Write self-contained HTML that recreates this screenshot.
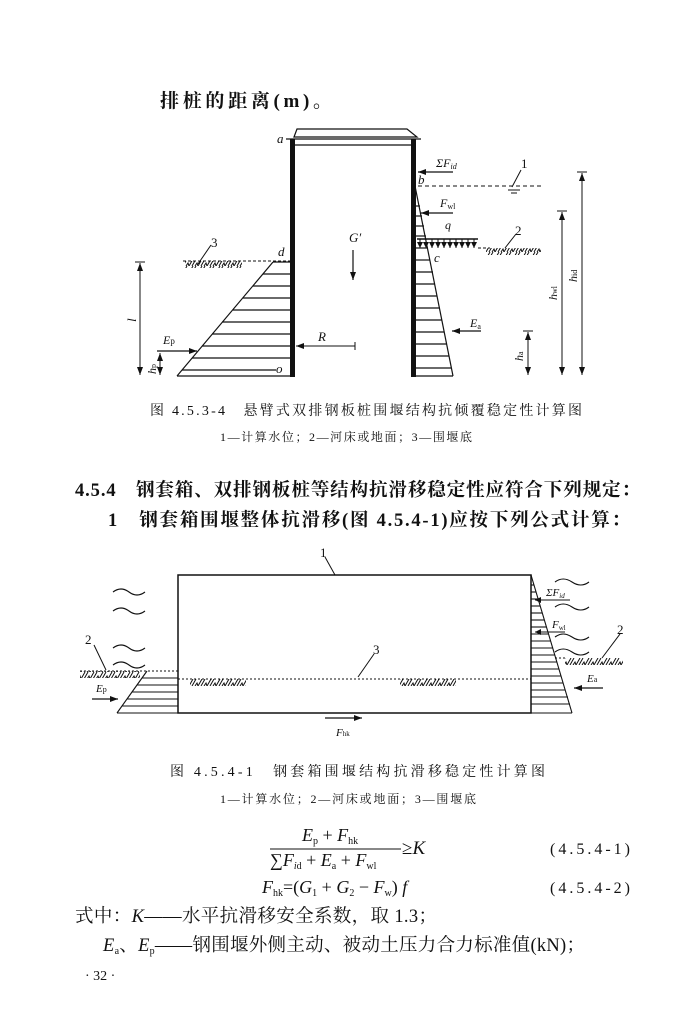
<!DOCTYPE html>
<html><head><meta charset="utf-8"><style>
html,body{margin:0;padding:0;background:#fff}
svg{display:block}
text{font-family:"Liberation Serif","Noto Serif CJK SC",serif;fill:#111}
.cn{font-family:"Liberation Serif","Noto Serif CJK SC",serif}
.it{font-style:italic}
</style></head><body>
<svg width="700" height="1023" viewBox="0 0 700 1023" xmlns="http://www.w3.org/2000/svg">
<defs>
<pattern id="h" width="9" height="7" patternUnits="userSpaceOnUse">
<path d="M0,7 L4,0 M3,7 L7,0 M6,7 L8,4 L9,7" stroke="#111" stroke-width="1" fill="none"/>
</pattern>
<marker id="ar" markerWidth="8" markerHeight="6" refX="8" refY="3" orient="auto" markerUnits="userSpaceOnUse"><path d="M0,0 L8,3 L0,6 z" fill="#111"/></marker>
<marker id="ar2" markerWidth="6" markerHeight="6" refX="6" refY="3" orient="auto" markerUnits="userSpaceOnUse"><path d="M0,0 L6,3 L0,6 z" fill="#111"/></marker>
<marker id="ab" markerWidth="8" markerHeight="6" refX="8" refY="3" orient="auto-start-reverse" markerUnits="userSpaceOnUse"><path d="M0,0 L8,3 L0,6 z" fill="#111"/></marker>
</defs>

<text x="160" y="107" font-size="19" font-weight="bold" class="cn" textLength="172" lengthAdjust="spacing">排桩的距离(m)。</text>

<!-- FIGURE 1 -->
<g stroke="#111" fill="none" stroke-width="1.2">
<polygon points="294,137 297,129 407,129 417,137"/>
<line x1="286" y1="139" x2="421" y2="139"/>
<line x1="294" y1="145" x2="416" y2="145"/>
</g>
<rect x="290" y="139" width="5" height="238" fill="#111"/>
<rect x="411" y="139" width="5" height="238" fill="#111"/>
<text x="277" y="143" font-size="13" class="it">a</text>
<line x1="453" y1="172" x2="418" y2="172" stroke="#111" stroke-width="1.2" marker-end="url(#ar)"/>
<text x="436" y="167" font-size="12" class="it">ΣF<tspan font-size="8" dy="2">id</tspan></text>
<text x="418" y="184" font-size="13" class="it">b</text>
<line x1="418" y1="186" x2="542" y2="186" stroke="#111" stroke-dasharray="4,3"/>
<line x1="512" y1="187" x2="521" y2="170" stroke="#111"/>
<text x="521" y="168" font-size="13">1</text>
<line x1="508" y1="190" x2="520" y2="190" stroke="#111"/>
<line x1="511" y1="193" x2="517" y2="193" stroke="#111"/>
<g stroke="#111" stroke-width="1.2">
<line x1="415" y1="186" x2="453" y2="376"/>
<line x1="416" y1="376" x2="453" y2="376"/>
<line x1="416" y1="206" x2="420" y2="206"/><line x1="416" y1="216" x2="422" y2="216"/><line x1="416" y1="226" x2="424" y2="226"/><line x1="416" y1="236" x2="426" y2="236"/><line x1="416" y1="248" x2="428" y2="248"/><line x1="416" y1="260" x2="430" y2="260"/><line x1="416" y1="272" x2="433" y2="272"/><line x1="416" y1="284" x2="435" y2="284"/><line x1="416" y1="296" x2="437" y2="296"/><line x1="416" y1="308" x2="440" y2="308"/><line x1="416" y1="320" x2="442" y2="320"/><line x1="416" y1="332" x2="444" y2="332"/><line x1="416" y1="344" x2="447" y2="344"/><line x1="416" y1="356" x2="449" y2="356"/><line x1="416" y1="368" x2="451" y2="368"/>
</g>
<line x1="453" y1="213" x2="421" y2="213" stroke="#111" stroke-width="1.2" marker-end="url(#ar)"/>
<text x="440" y="207" font-size="12" class="it">F<tspan font-size="8" dy="2" font-style="normal">wl</tspan></text>
<text x="445" y="229" font-size="12" class="it">q</text>
<line x1="417" y1="239" x2="478" y2="239" stroke="#111" stroke-width="1.5"/>
<g stroke="#111" stroke-width="1" marker-end="url(#ar2)">
<line x1="420" y1="239" x2="420" y2="248"/><line x1="426" y1="239" x2="426" y2="248"/><line x1="432" y1="239" x2="432" y2="248"/><line x1="438" y1="239" x2="438" y2="248"/><line x1="444" y1="239" x2="444" y2="248"/><line x1="450" y1="239" x2="450" y2="248"/><line x1="456" y1="239" x2="456" y2="248"/><line x1="462" y1="239" x2="462" y2="248"/><line x1="468" y1="239" x2="468" y2="248"/><line x1="474" y1="239" x2="474" y2="248"/>
</g>
<line x1="478" y1="248" x2="490" y2="248" stroke="#111" stroke-dasharray="3,2"/>
<rect x="486" y="248" width="55" height="7" fill="url(#h)"/>
<line x1="505" y1="248" x2="516" y2="234" stroke="#111"/>
<text x="515" y="235" font-size="13">2</text>
<text x="434" y="262" font-size="13" class="it">c</text>
<line x1="481" y1="331" x2="452" y2="331" stroke="#111" stroke-width="1.2" marker-end="url(#ar)"/>
<text x="470" y="327" font-size="12" class="it">E<tspan font-size="8" dy="2" font-style="normal">a</tspan></text>
<g stroke="#111" stroke-width="1" marker-start="url(#ab)" marker-end="url(#ab)">
<line x1="562" y1="212" x2="562" y2="375"/>
<line x1="582" y1="173" x2="582" y2="375"/>
<line x1="528" y1="332" x2="528" y2="375"/>
</g>
<g stroke="#111" stroke-width="1">
<line x1="557" y1="211" x2="567" y2="211"/><line x1="577" y1="172" x2="587" y2="172"/><line x1="523" y1="331" x2="533" y2="331"/>
</g>
<text transform="translate(557,300) rotate(-90)" font-size="12" class="it">h<tspan font-size="8" font-style="normal">wl</tspan></text>
<text transform="translate(577,282) rotate(-90)" font-size="12" class="it">h<tspan font-size="8" font-style="normal">id</tspan></text>
<text transform="translate(523,361) rotate(-90)" font-size="12" class="it">h<tspan font-size="8" font-style="normal">a</tspan></text>
<line x1="183" y1="261" x2="290" y2="261" stroke="#111" stroke-dasharray="3,2"/>
<rect x="185" y="261" width="57" height="7" fill="url(#h)"/>
<line x1="198" y1="264" x2="211" y2="245" stroke="#111"/>
<text x="211" y="247" font-size="13">3</text>
<text x="278" y="256" font-size="13" class="it">d</text>
<g stroke="#111" stroke-width="1.2">
<line x1="273" y1="262" x2="177" y2="376"/>
<line x1="177" y1="376" x2="290" y2="376"/>
<line x1="273" y1="262" x2="290" y2="262"/>
<line x1="263" y1="274" x2="290" y2="274"/><line x1="253" y1="286" x2="290" y2="286"/><line x1="243" y1="298" x2="290" y2="298"/><line x1="233" y1="310" x2="290" y2="310"/><line x1="222" y1="322" x2="290" y2="322"/><line x1="212" y1="334" x2="290" y2="334"/><line x1="202" y1="346" x2="290" y2="346"/><line x1="192" y1="358" x2="290" y2="358"/><line x1="182" y1="370" x2="276" y2="370"/>
</g>
<text x="276" y="373" font-size="13" class="it">o</text>
<g stroke="#111" stroke-width="1" marker-start="url(#ab)" marker-end="url(#ab)">
<line x1="140" y1="263" x2="140" y2="375"/>
<line x1="160" y1="353" x2="160" y2="375"/>
</g>
<line x1="135" y1="262" x2="145" y2="262" stroke="#111"/>
<text transform="translate(136,322) rotate(-90)" font-size="13" class="it">l</text>
<text transform="translate(156,374) rotate(-90)" font-size="12" class="it">h<tspan font-size="8" font-style="normal">p</tspan></text>
<line x1="157" y1="351" x2="197" y2="351" stroke="#111" stroke-width="1.2" marker-end="url(#ar)"/>
<text x="163" y="344" font-size="12" class="it">E<tspan font-size="9" font-style="normal">p</tspan></text>
<line x1="296" y1="346" x2="355" y2="346" stroke="#111" stroke-width="1" marker-start="url(#ab)"/>
<line x1="355" y1="342" x2="355" y2="350" stroke="#111"/>
<text x="318" y="341" font-size="13" class="it">R</text>
<text x="349" y="242" font-size="13" class="it">G′</text>
<line x1="353" y1="250" x2="353" y2="280" stroke="#111" stroke-width="1.2" marker-end="url(#ar)"/>

<text x="150" y="415" font-size="14" class="cn" textLength="432" lengthAdjust="spacing">图 4.5.3-4　悬臂式双排钢板桩围堰结构抗倾覆稳定性计算图</text>
<text x="220" y="441" font-size="12" class="cn" textLength="252" lengthAdjust="spacing">1—计算水位；2—河床或地面；3—围堰底</text>

<text x="75" y="496" font-size="18.5" font-weight="bold" class="cn" textLength="565" lengthAdjust="spacing">4.5.4　钢套箱、双排钢板桩等结构抗滑移稳定性应符合下列规定：</text>
<text x="108" y="526" font-size="18.5" font-weight="bold" class="cn" textLength="522" lengthAdjust="spacing">1　钢套箱围堰整体抗滑移(图 4.5.4-1)应按下列公式计算：</text>

<!-- FIGURE 2 -->
<rect x="178" y="575" width="353" height="138" fill="none" stroke="#111" stroke-width="1.5"/>
<line x1="335" y1="575" x2="325" y2="557" stroke="#111"/>
<text x="320" y="557" font-size="13">1</text>
<line x1="178" y1="679" x2="531" y2="679" stroke="#111" stroke-dasharray="2,2"/>
<rect x="190" y="679" width="56" height="7" fill="url(#h)"/>
<rect x="400" y="679" width="56" height="7" fill="url(#h)"/>
<line x1="358" y1="677" x2="374" y2="654" stroke="#111"/>
<text x="373" y="654" font-size="13">3</text>
<g stroke="#111" stroke-width="1.1">
<line x1="531" y1="575" x2="572" y2="713"/>
<line x1="531" y1="713" x2="572" y2="713"/>
<line x1="531" y1="585" x2="534" y2="585"/><line x1="531" y1="592" x2="536" y2="592"/><line x1="531" y1="599" x2="538" y2="599"/><line x1="531" y1="606" x2="540" y2="606"/><line x1="531" y1="613" x2="542" y2="613"/><line x1="531" y1="620" x2="544" y2="620"/><line x1="531" y1="627" x2="546" y2="627"/><line x1="531" y1="634" x2="549" y2="634"/><line x1="531" y1="641" x2="551" y2="641"/><line x1="531" y1="648" x2="553" y2="648"/><line x1="531" y1="655" x2="555" y2="655"/><line x1="531" y1="662" x2="557" y2="662"/><line x1="531" y1="669" x2="559" y2="669"/><line x1="531" y1="676" x2="561" y2="676"/><line x1="531" y1="683" x2="563" y2="683"/><line x1="531" y1="690" x2="565" y2="690"/><line x1="531" y1="697" x2="568" y2="697"/><line x1="531" y1="704" x2="570" y2="704"/>
</g>
<line x1="570" y1="600" x2="535" y2="600" stroke="#111" marker-end="url(#ar2)"/>
<text x="546" y="596" font-size="11" class="it">ΣF<tspan font-size="7" dy="2">id</tspan></text>
<line x1="565" y1="632" x2="535" y2="632" stroke="#111" marker-end="url(#ar2)"/>
<text x="552" y="628" font-size="11" class="it">F<tspan font-size="7" dy="2" font-style="normal">wl</tspan></text>
<line x1="555" y1="658" x2="566" y2="658" stroke="#111" stroke-dasharray="2,2"/>
<rect x="565" y="658" width="58" height="7" fill="url(#h)"/>
<line x1="602" y1="658" x2="620" y2="634" stroke="#111"/>
<text x="617" y="634" font-size="13">2</text>
<line x1="603" y1="688" x2="574" y2="688" stroke="#111" stroke-width="1.2" marker-end="url(#ar)"/>
<text x="587" y="682" font-size="11" class="it">E<tspan font-size="8" font-style="normal">a</tspan></text>
<g stroke="#111" fill="none" stroke-width="1.1">
<path d="M555,582 q8,-6 17,0 t17,0"/><path d="M555,607 q8,-6 17,0 t17,0"/><path d="M555,637 q8,-6 17,0 t17,0"/><path d="M555,652 q8,-6 17,0 t17,0"/>
<path d="M113,592 q8,-6 16,0 t16,0"/><path d="M113,611 q8,-6 16,0 t16,0"/><path d="M113,648 q8,-6 16,0 t16,0"/><path d="M113,665 q8,-6 16,0 t16,0"/>
</g>
<g stroke="#111" stroke-width="1.1">
<line x1="80" y1="671" x2="178" y2="671" stroke-dasharray="2,2"/>
<line x1="147" y1="671" x2="117" y2="713"/>
<line x1="117" y1="713" x2="178" y2="713"/>
<line x1="142" y1="678" x2="178" y2="678"/><line x1="137" y1="685" x2="178" y2="685"/><line x1="132" y1="692" x2="178" y2="692"/><line x1="127" y1="699" x2="178" y2="699"/><line x1="122" y1="706" x2="178" y2="706"/>
</g>
<rect x="80" y="671" width="60" height="7" fill="url(#h)"/>
<line x1="94" y1="645" x2="106" y2="670" stroke="#111"/>
<text x="85" y="644" font-size="13">2</text>
<line x1="92" y1="699" x2="118" y2="699" stroke="#111" stroke-width="1.2" marker-end="url(#ar)"/>
<text x="96" y="692" font-size="11" class="it">E<tspan font-size="8" font-style="normal">p</tspan></text>
<line x1="325" y1="718" x2="362" y2="718" stroke="#111" stroke-width="1.2" marker-end="url(#ar)"/>
<text x="336" y="736" font-size="11" class="it">F<tspan font-size="7" font-style="normal">hk</tspan></text>

<text x="170" y="776" font-size="14" class="cn" textLength="375" lengthAdjust="spacing">图 4.5.4-1　钢套箱围堰结构抗滑移稳定性计算图</text>
<text x="220" y="803" font-size="12" class="cn" textLength="256" lengthAdjust="spacing">1—计算水位；2—河床或地面；3—围堰底</text>

<text x="302" y="841" font-size="18"><tspan class="it">E</tspan><tspan font-size="10" dy="3">p</tspan><tspan dy="-3"> + </tspan><tspan class="it">F</tspan><tspan font-size="10" dy="3">hk</tspan></text>
<line x1="270" y1="849" x2="401" y2="849" stroke="#111" stroke-width="1"/>
<text x="270" y="866" font-size="18"><tspan>∑</tspan><tspan class="it">F</tspan><tspan font-size="10" dy="3" class="it">i</tspan><tspan font-size="10">d</tspan><tspan dy="-3"> + </tspan><tspan class="it">E</tspan><tspan font-size="10" dy="3">a</tspan><tspan dy="-3"> + </tspan><tspan class="it">F</tspan><tspan font-size="10" dy="3">wl</tspan></text>
<text x="402" y="854" font-size="19">≥<tspan class="it">K</tspan></text>
<text x="550" y="854" font-size="16" class="cn" textLength="80" lengthAdjust="spacing">(4.5.4-1)</text>
<text x="262" y="893" font-size="18"><tspan class="it">F</tspan><tspan font-size="10" dy="3">hk</tspan><tspan dy="-3">=(</tspan><tspan class="it">G</tspan><tspan font-size="10" dy="3">1</tspan><tspan dy="-3"> + </tspan><tspan class="it">G</tspan><tspan font-size="10" dy="3">2</tspan><tspan dy="-3"> − </tspan><tspan class="it">F</tspan><tspan font-size="10" dy="3">w</tspan><tspan dy="-3">) </tspan><tspan class="it">f</tspan></text>
<text x="550" y="893" font-size="16" class="cn" textLength="80" lengthAdjust="spacing">(4.5.4-2)</text>
<text x="75" y="922" font-size="18.5" class="cn" textLength="362" lengthAdjust="spacing">式中：<tspan class="it">K</tspan>——水平抗滑移安全系数，取 1.3；</text>
<text x="103" y="951" font-size="18.5" class="cn" textLength="482" lengthAdjust="spacing"><tspan class="it">E</tspan><tspan font-size="10" dy="3">a</tspan><tspan dy="-3">、</tspan><tspan class="it">E</tspan><tspan font-size="10" dy="3">p</tspan><tspan dy="-3">——钢围堰外侧主动、被动土压力合力标准值(kN)；</tspan></text>
<text x="85" y="980" font-size="14">· 32 ·</text>
</svg>
</body></html>
